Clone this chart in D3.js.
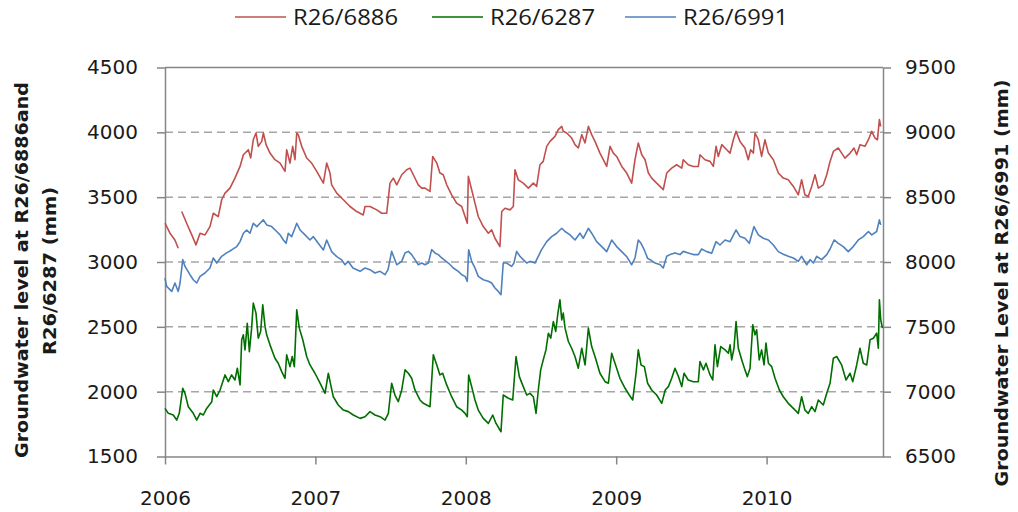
<!DOCTYPE html>
<html>
<head>
<meta charset="utf-8">
<script src="https://cdn.jsdelivr.net/npm/d3@7"></script>
<style>
  body { margin: 0; background: #fff; }
  svg { display: block; }
</style>
</head>
<body>
<div id="vis"></div>
<script>
// groundwater levels, [decimal year, mm]. R26/6991 is read against the right axis
var red6886 = [
  [2006.000,3300],[2006.033,3222],[2006.066,3170],[2006.088,3106],[2006.100,null],
  [2006.111,3389],[2006.144,3299],[2006.178,3209],[2006.206,3132],[2006.233,3222],
  [2006.266,3209],[2006.299,3273],[2006.321,3376],[2006.354,3350],[2006.377,3480],
  [2006.399,3531],[2006.432,3570],[2006.465,3647],[2006.499,3737],[2006.521,3827],
  [2006.554,3866],[2006.570,3802],[2006.587,3943],[2006.605,3995],[2006.620,3892],
  [2006.643,3930],[2006.654,3995],[2006.672,3905],[2006.698,3840],[2006.731,3789],
  [2006.765,3763],[2006.798,3699],[2006.809,3866],[2006.831,3763],[2006.849,3892],
  [2006.864,3789],[2006.876,3995],[2006.886,3982],[2006.909,3892],[2006.942,3802],
  [2006.975,3763],[2007.009,3699],[2007.053,3608],[2007.075,3763],[2007.097,3686],
  [2007.108,3595],[2007.142,3531],[2007.186,3480],[2007.230,3428],[2007.275,3389],
  [2007.318,3363],[2007.330,3428],[2007.363,3428],[2007.408,3402],[2007.441,3376],
  [2007.474,3376],[2007.496,3608],[2007.518,3647],[2007.541,3595],[2007.574,3673],
  [2007.607,3711],[2007.629,3724],[2007.651,3673],[2007.684,3595],[2007.707,3570],
  [2007.729,3570],[2007.762,3544],[2007.780,3814],[2007.807,3763],[2007.828,3686],
  [2007.850,3673],[2007.873,3595],[2007.906,3518],[2007.939,3454],[2007.973,3428],
  [2007.995,3351],[2008.010,3299],[2008.017,3660],[2008.039,3557],[2008.061,3454],
  [2008.083,3351],[2008.116,3273],[2008.150,3222],[2008.172,3248],[2008.194,3183],
  [2008.227,3119],[2008.239,3389],[2008.261,3415],[2008.294,3402],[2008.316,3428],
  [2008.327,3711],[2008.349,3634],[2008.382,3608],[2008.416,3570],[2008.449,3608],
  [2008.471,3583],[2008.493,3750],[2008.515,3776],[2008.538,3892],[2008.560,3930],
  [2008.593,3969],[2008.615,4021],[2008.638,4046],[2008.648,4008],[2008.671,3995],
  [2008.704,3956],[2008.726,3905],[2008.748,3879],[2008.771,3982],[2008.793,3918],
  [2008.815,4046],[2008.837,3982],[2008.859,3930],[2008.892,3840],[2008.937,3737],
  [2008.959,3892],[2008.981,3840],[2009.003,3814],[2009.037,3737],[2009.070,3686],
  [2009.103,3608],[2009.125,3789],[2009.147,3918],[2009.170,3827],[2009.192,3789],
  [2009.214,3686],[2009.236,3647],[2009.269,3608],[2009.303,3570],[2009.313,3557],
  [2009.336,3686],[2009.369,3724],[2009.402,3750],[2009.436,3724],[2009.446,3789],
  [2009.479,3750],[2009.513,3737],[2009.546,3737],[2009.557,3827],[2009.590,3789],
  [2009.624,3776],[2009.646,3737],[2009.664,3892],[2009.679,3814],[2009.702,3905],
  [2009.735,3866],[2009.757,3840],[2009.779,3943],[2009.797,4008],[2009.823,3930],
  [2009.856,3879],[2009.878,3789],[2009.894,3866],[2009.912,3840],[2009.923,3995],
  [2009.945,3943],[2009.967,3814],[2009.989,3943],[2010.012,3840],[2010.045,3789],
  [2010.078,3686],[2010.111,3647],[2010.144,3634],[2010.178,3583],[2010.211,3518],
  [2010.233,3634],[2010.255,3518],[2010.277,3505],[2010.300,3583],[2010.322,3673],
  [2010.344,3570],[2010.377,3595],[2010.400,3673],[2010.422,3776],[2010.444,3853],
  [2010.477,3879],[2010.499,3840],[2010.521,3801],[2010.555,3840],[2010.581,3879],
  [2010.599,3827],[2010.621,3905],[2010.654,3892],[2010.677,3943],[2010.699,4008],
  [2010.721,3956],[2010.737,3943],[2010.750,4098],[2010.759,4046]
];

var green6287 = [
  [2006.000,1871],[2006.022,1833],[2006.055,1820],[2006.078,1781],[2006.095,1833],
  [2006.118,2026],[2006.133,1987],[2006.155,1884],[2006.188,1833],[2006.211,1781],
  [2006.233,1833],[2006.255,1820],[2006.277,1871],[2006.311,1923],[2006.321,2013],
  [2006.344,1961],[2006.366,2013],[2006.399,2129],[2006.421,2077],[2006.443,2129],
  [2006.465,2090],[2006.481,2181],[2006.499,2052],[2006.510,2400],[2006.521,2438],
  [2006.532,2322],[2006.547,2528],[2006.561,2309],[2006.576,2490],[2006.587,2683],
  [2006.605,2606],[2006.620,2412],[2006.636,2464],[2006.650,2670],[2006.665,2503],
  [2006.676,2438],[2006.698,2361],[2006.731,2258],[2006.753,2219],[2006.776,2155],
  [2006.798,2103],[2006.809,2284],[2006.831,2193],[2006.846,2271],[2006.860,2193],
  [2006.876,2631],[2006.893,2490],[2006.916,2400],[2006.942,2271],[2006.964,2206],
  [2006.997,2142],[2007.031,2065],[2007.064,1987],[2007.086,2142],[2007.102,2052],
  [2007.119,1961],[2007.152,1897],[2007.186,1858],[2007.219,1846],[2007.252,1820],
  [2007.297,1794],[2007.330,1807],[2007.363,1846],[2007.396,1820],[2007.430,1807],
  [2007.463,1781],[2007.485,1833],[2007.507,2065],[2007.529,1974],[2007.551,1923],
  [2007.574,2013],[2007.596,2168],[2007.618,2142],[2007.640,2103],[2007.662,2013],
  [2007.695,1936],[2007.718,1910],[2007.740,1897],[2007.762,1884],[2007.784,2284],
  [2007.807,2206],[2007.828,2129],[2007.846,2142],[2007.873,2052],[2007.906,1961],
  [2007.939,1884],[2007.973,1858],[2007.995,1833],[2008.010,1807],[2008.019,2129],
  [2008.039,2039],[2008.061,1936],[2008.083,1858],[2008.116,1794],[2008.150,1755],
  [2008.179,1820],[2008.201,1755],[2008.234,1691],[2008.249,1974],[2008.283,1949],
  [2008.312,1936],[2008.334,2271],[2008.356,2116],[2008.382,2039],[2008.405,1974],
  [2008.427,1987],[2008.449,1961],[2008.467,1833],[2008.482,2013],[2008.498,2168],
  [2008.515,2245],[2008.533,2322],[2008.549,2451],[2008.565,2412],[2008.582,2541],
  [2008.598,2464],[2008.611,2593],[2008.626,2709],[2008.638,2554],[2008.648,2606],
  [2008.660,2490],[2008.682,2387],[2008.704,2335],[2008.726,2271],[2008.748,2181],
  [2008.771,2335],[2008.793,2206],[2008.815,2490],[2008.837,2348],[2008.859,2271],
  [2008.892,2142],[2008.926,2077],[2008.948,2065],[2008.970,2296],[2008.992,2219],
  [2009.025,2103],[2009.059,2026],[2009.087,1974],[2009.110,1936],[2009.132,2142],
  [2009.147,2322],[2009.165,2206],[2009.187,2193],[2009.209,2065],[2009.236,2013],
  [2009.269,1974],[2009.303,1910],[2009.326,2013],[2009.347,2039],[2009.369,2103],
  [2009.391,2181],[2009.414,2116],[2009.436,2039],[2009.451,2142],[2009.479,2090],
  [2009.513,2077],[2009.546,2077],[2009.557,2232],[2009.580,2168],[2009.597,2219],
  [2009.624,2129],[2009.642,2090],[2009.657,2361],[2009.673,2193],[2009.695,2348],
  [2009.724,2322],[2009.746,2296],[2009.757,2361],[2009.768,2245],[2009.783,2335],
  [2009.797,2541],[2009.812,2335],[2009.835,2245],[2009.856,2168],[2009.872,2116],
  [2009.890,2181],[2009.908,2515],[2009.923,2438],[2009.934,2477],[2009.951,2245],
  [2009.967,2322],[2009.983,2206],[2009.996,2374],[2010.012,2219],[2010.034,2193],
  [2010.056,2103],[2010.085,2013],[2010.111,1961],[2010.144,1910],[2010.178,1871],
  [2010.211,1833],[2010.233,1961],[2010.255,1858],[2010.277,1833],[2010.300,1884],
  [2010.322,1846],[2010.344,1936],[2010.377,1897],[2010.400,1987],[2010.422,2065],
  [2010.444,2258],[2010.466,2271],[2010.499,2206],[2010.528,2090],[2010.555,2142],
  [2010.573,2077],[2010.599,2206],[2010.621,2335],[2010.643,2219],[2010.666,2206],
  [2010.688,2400],[2010.710,2412],[2010.732,2451],[2010.743,2335],[2010.750,2709],
  [2010.759,2554],[2010.770,2490]
];

var blue6991 = [
  [2006.000,7876],[2006.011,7812],[2006.045,7773],[2006.066,7838],[2006.088,7773],
  [2006.100,7838],[2006.118,8018],[2006.133,7966],[2006.166,7902],[2006.188,7863],
  [2006.211,7838],[2006.233,7889],[2006.266,7915],[2006.299,7954],[2006.321,8031],
  [2006.344,7992],[2006.377,8044],[2006.410,8070],[2006.443,8093],[2006.477,8119],
  [2006.499,8157],[2006.521,8222],[2006.543,8247],[2006.565,8222],[2006.587,8299],
  [2006.610,8273],[2006.632,8299],[2006.654,8325],[2006.676,8286],[2006.709,8273],
  [2006.743,8235],[2006.765,8209],[2006.787,8170],[2006.805,8144],[2006.820,8222],
  [2006.842,8196],[2006.864,8260],[2006.876,8299],[2006.898,8247],[2006.931,8209],
  [2006.964,8170],[2006.986,8196],[2007.019,8144],[2007.053,8093],[2007.075,8170],
  [2007.108,8080],[2007.142,8041],[2007.175,8016],[2007.197,7979],[2007.217,8005],
  [2007.250,7954],[2007.297,7928],[2007.330,7954],[2007.363,7941],[2007.396,7915],
  [2007.430,7928],[2007.463,7902],[2007.483,7941],[2007.507,8082],[2007.541,7979],
  [2007.574,8005],[2007.596,8070],[2007.618,8082],[2007.640,8057],[2007.662,8018],
  [2007.684,7979],[2007.707,7992],[2007.729,7979],[2007.751,7992],[2007.773,8095],
  [2007.795,8070],[2007.817,8057],[2007.840,8031],[2007.884,7992],[2007.917,7954],
  [2007.950,7928],[2007.973,7902],[2007.995,7889],[2008.010,7851],[2008.019,8095],
  [2008.039,8005],[2008.061,7954],[2008.083,7889],[2008.116,7863],[2008.150,7851],
  [2008.172,7838],[2008.194,7799],[2008.216,7773],[2008.234,7748],[2008.249,7992],
  [2008.272,7992],[2008.305,7966],[2008.320,7992],[2008.338,8082],[2008.360,8044],
  [2008.382,8018],[2008.405,7992],[2008.427,8005],[2008.460,7992],[2008.482,8044],
  [2008.504,8095],[2008.538,8157],[2008.571,8196],[2008.604,8222],[2008.638,8260],
  [2008.660,8235],[2008.693,8209],[2008.726,8170],[2008.759,8222],[2008.781,8183],
  [2008.815,8260],[2008.837,8222],[2008.870,8157],[2008.904,8119],[2008.937,8080],
  [2008.970,8170],[2009.003,8119],[2009.037,8080],[2009.070,8041],[2009.103,7979],
  [2009.125,8031],[2009.147,8170],[2009.165,8144],[2009.187,8093],[2009.209,8028],
  [2009.226,8018],[2009.259,7992],[2009.293,7979],[2009.313,7954],[2009.336,8044],
  [2009.358,8057],[2009.391,8070],[2009.424,8057],[2009.446,8082],[2009.479,8070],
  [2009.513,8057],[2009.546,8057],[2009.568,8100],[2009.602,8080],[2009.635,8067],
  [2009.664,8157],[2009.690,8131],[2009.724,8170],[2009.757,8157],[2009.797,8247],
  [2009.823,8196],[2009.856,8183],[2009.885,8144],[2009.916,8273],[2009.945,8209],
  [2009.978,8183],[2010.012,8170],[2010.045,8131],[2010.078,8080],[2010.111,8060],
  [2010.144,8044],[2010.178,8031],[2010.211,8005],[2010.233,8044],[2010.267,7979],
  [2010.289,8018],[2010.311,7992],[2010.333,8044],[2010.366,8018],[2010.400,8057],
  [2010.422,8100],[2010.449,8170],[2010.477,8144],[2010.510,8119],[2010.543,8080],
  [2010.576,8119],[2010.610,8170],[2010.643,8196],[2010.677,8235],[2010.699,8209],
  [2010.732,8235],[2010.750,8325],[2010.759,8286]
];

var seriesNames = ["R26/6886", "R26/6287", "R26/6991"];
var seriesColors = ["#c0504d", "#006f00", "#4f81bd"];
var yearTicks = [2006, 2007, 2008, 2009, 2010];
var leftTicks = [1500, 2000, 2500, 3000, 3500, 4000, 4500];
var rightTicks = [6500, 7000, 7500, 8000, 8500, 9000, 9500];
var xEnd = 2010.774;

var W = 1018, H = 512;
var plot = {left: 165, right: 883, top: 67.5, bottom: 456.5};
var tickFont = "'DejaVu Sans', Verdana, sans-serif";
var axisGrey = "#868686";
var fmt = d3.format("d");

var svg = d3.select("#vis").append("svg").attr("width", W).attr("height", H);

var x = d3.scaleLinear().domain([2006, xEnd]).range([plot.left, plot.right]);
var yL = d3.scaleLinear().domain([1500, 4500]).range([plot.bottom, plot.top]);
var yR = d3.scaleLinear().domain([6500, 9500]).range([plot.bottom, plot.top]);

// dashed gridlines, solid line on top
svg.append("g").selectAll("line")
  .data(leftTicks.slice(1, -1))
  .join("line")
  .attr("x1", plot.left).attr("x2", plot.right)
  .attr("y1", d => yL(d)).attr("y2", d => yL(d))
  .attr("stroke", "#a6a6a6").attr("stroke-width", 1.5)
  .attr("stroke-dasharray", "8,5");

svg.append("line")
  .attr("x1", plot.left).attr("x2", plot.right)
  .attr("y1", yL(4500)).attr("y2", yL(4500))
  .attr("stroke", axisGrey).attr("stroke-width", 1.5);

function styleAxis(g) {
  g.selectAll(".domain").attr("stroke", axisGrey).attr("stroke-width", 1.5);
  g.selectAll(".tick line").attr("stroke", axisGrey).attr("stroke-width", 1.5);
  g.selectAll("text").attr("fill", "#1a1a1a")
    .style("font-family", tickFont).style("font-size", "20px");
}

svg.append("g")
  .attr("transform", "translate(" + plot.left + ",0)")
  .call(d3.axisLeft(yL).tickValues(leftTicks).tickFormat(fmt).tickSize(8).tickSizeOuter(0).tickPadding(19))
  .call(styleAxis);

svg.append("g")
  .attr("transform", "translate(" + plot.right + ",0)")
  .call(d3.axisRight(yR).tickValues(rightTicks).tickFormat(fmt).tickSize(8).tickSizeOuter(0).tickPadding(14))
  .call(styleAxis);

svg.append("g")
  .attr("transform", "translate(0," + plot.bottom + ")")
  .call(d3.axisBottom(x).tickValues(yearTicks).tickFormat(fmt).tickSize(8).tickSizeOuter(0).tickPadding(26))
  .call(styleAxis);

// series lines
var lineL = d3.line().defined(d => d[1] != null).x(d => x(d[0])).y(d => yL(d[1]));
var lineR = d3.line().defined(d => d[1] != null).x(d => x(d[0])).y(d => yR(d[1]));

var series = [
  {data: red6886, line: lineL},
  {data: green6287, line: lineL},
  {data: blue6991, line: lineR}
];

svg.append("g").selectAll("path")
  .data(series)
  .join("path")
  .attr("d", d => d.line(d.data))
  .attr("fill", "none")
  .attr("stroke", (d, i) => seriesColors[i])
  .attr("stroke-width", 1.6)
  .attr("stroke-linejoin", "round");

// axis titles
var titleFont = "'DejaVu Sans', Tahoma, sans-serif";
svg.append("text")
  .attr("transform", "translate(22,270) rotate(-90)")
  .attr("text-anchor", "middle").attr("dy", "0.35em")
  .attr("textLength", 376).attr("lengthAdjust", "spacingAndGlyphs")
  .style("font-family", titleFont).style("font-size", "17px").style("font-weight", "bold")
  .attr("fill", "#1a1a1a")
  .text("Groundwater level at R26/6886and");
svg.append("text")
  .attr("transform", "translate(50,271) rotate(-90)")
  .attr("text-anchor", "middle").attr("dy", "0.35em")
  .attr("textLength", 168).attr("lengthAdjust", "spacingAndGlyphs")
  .style("font-family", titleFont).style("font-size", "17px").style("font-weight", "bold")
  .attr("fill", "#1a1a1a")
  .text("R26/6287 (mm)");
svg.append("text")
  .attr("transform", "translate(1002,283) rotate(-90)")
  .attr("text-anchor", "middle").attr("dy", "0.35em")
  .attr("textLength", 407).attr("lengthAdjust", "spacingAndGlyphs")
  .style("font-family", titleFont).style("font-size", "17px").style("font-weight", "bold")
  .attr("fill", "#1a1a1a")
  .text("Groundwater Level at R26/6991 (mm)");

// legend
var legendX = [235, 432, 625];
var lg = svg.append("g").selectAll("g")
  .data(seriesNames)
  .join("g")
  .attr("transform", (d, i) => "translate(" + legendX[i] + ",17)");
lg.append("line")
  .attr("x1", 0).attr("x2", 51)
  .attr("stroke", (d, i) => seriesColors[i]).attr("stroke-width", 1.6);
lg.append("text")
  .attr("x", 58).attr("y", 8)
  .attr("textLength", 105).attr("lengthAdjust", "spacingAndGlyphs")
  .style("font-family", "'Open Sans', sans-serif").style("font-size", "21px")
  .attr("fill", "#1a1a1a")
  .text(d => d);
</script>
</body>
</html>
